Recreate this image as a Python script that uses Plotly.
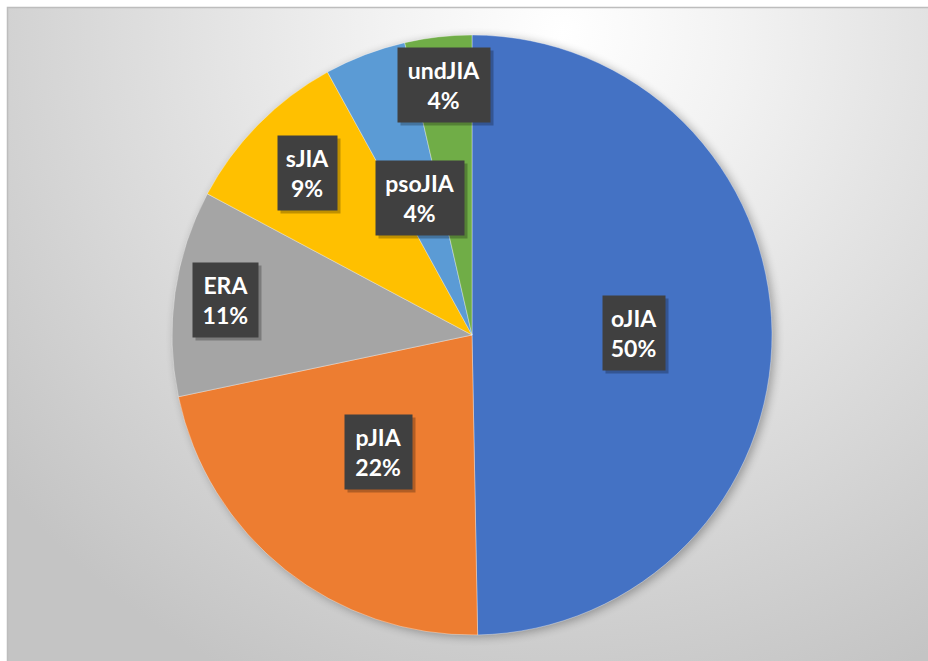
import math, base64
import plotly.graph_objects as go

categories = ["oJIA", "pJIA", "ERA", "sJIA", "psoJIA", "undJIA"]
values = [49.7, 22.0, 11.1, 9.2, 4.4, 3.6]
colors = ["#4472C4", "#ED7D31", "#A5A5A5", "#FFC000", "#5B9BD5", "#70AD47"]
label_radius = [0.54, 0.50, 0.83, 0.77, 0.49, 0.84]
box_width = [48, 53, 51, 45, 74, 78]

W, H = 928, 661
L, T, S = 172, 35, 600
BX, BY = 7, 7  # chart-area origin inside the page

fig = go.Figure(go.Pie(
    labels=categories, values=values, sort=False, direction="clockwise", rotation=0,
    marker=dict(colors=colors, line=dict(color="rgba(255,255,255,0.6)", width=0.6)),
    textinfo="none", hoverinfo="label+percent", showlegend=False,
))

total = sum(values)
cum = 0
anns = []
FONT = "Lato, Open Sans, sans-serif"
for cat, v, f, bw in zip(categories, values, label_radius, box_width):
    mid = (cum + v / 2) / total * 2 * math.pi
    cum += v
    x = 0.5 + 0.5 * f * math.sin(mid)
    y = 0.5 + 0.5 * f * math.cos(mid)
    pct = f"{round(v / total * 100)}%"
    txt = f"<b>{cat}</b><br><b>{pct}</b>"
    common = dict(x=x, y=y, xref="paper", yref="paper", showarrow=False,
                  xanchor="center", yanchor="middle",
                  font=dict(family=FONT, size=23, color="white"),
                  borderpad=7, align="center", height=60, width=bw)
    anns.append(dict(common, text=" ", bgcolor="rgba(0,0,0,0.25)", xshift=3, yshift=-3))
    anns.append(dict(common, text=txt, bgcolor="#404040"))

GW, GH = W - BX, H - BY
pcx, pcy, pr = L + S / 2 - BX, T + S / 2 - BY, S / 2
svg = f'''<svg xmlns="http://www.w3.org/2000/svg" width="{GW}" height="{GH}" viewBox="0 0 {GW} {GH}">
<defs><radialGradient id="g" gradientUnits="userSpaceOnUse" cx="555" cy="25" r="720">
<stop offset="0" stop-color="#ffffff"/><stop offset="0.25" stop-color="#f2f2f2"/><stop offset="1" stop-color="#c4c4c4"/></radialGradient>
<filter id="b" x="-20%" y="-20%" width="140%" height="140%"><feGaussianBlur stdDeviation="5"/></filter></defs>
<rect x="0" y="0" width="{GW}" height="{GH}" fill="url(#g)"/>
<circle cx="{pcx + 3}" cy="{pcy + 2}" r="{pr}" fill="#000" opacity="0.3" filter="url(#b)"/></svg>'''
src = "data:image/svg+xml;base64," + base64.b64encode(svg.encode()).decode()

x0 = (BX - L) / S
x1 = (W - L) / S
y0 = 1 + (T - BY) / S
y1 = 1 - (H - T) / S

fig.update_layout(
    width=W, height=H,
    margin=dict(l=L, r=W - L - S, t=T, b=H - T - S),
    paper_bgcolor="white",
    images=[dict(source=src, xref="paper", yref="paper", x=x0, y=y0,
                 sizex=x1 - x0, sizey=y0 - y1, sizing="stretch", layer="below",
                 xanchor="left", yanchor="top")],
    shapes=[dict(type="rect", xref="paper", yref="paper",
                 x0=x0 + 0.5 / S, x1=x1 + 0.05, y0=y1 - 0.05, y1=y0 - 0.5 / S,
                 line=dict(color="#bdbdbd", width=1.5), layer="below")],
    annotations=anns,
)
fig.write_html("out.html", config={"displayModeBar": False},
               post_script="document.body.style.margin='0';document.body.style.overflow='hidden';")
